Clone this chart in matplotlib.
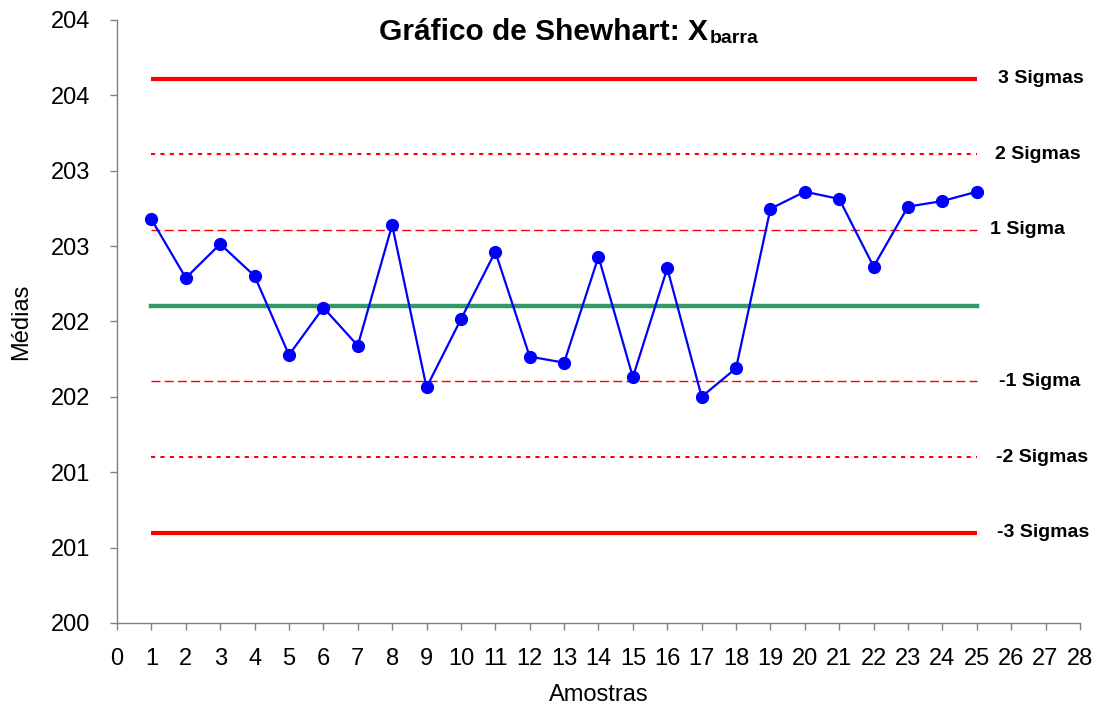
import matplotlib.pyplot as plt
import numpy as np

plt.rcParams['font.family'] = ['Liberation Sans', 'DejaVu Sans']

# amostras e medias
amostras = list(range(1, 26))
medias = [202.678, 202.289, 202.514, 202.302, 201.778, 202.092, 201.840,
          202.640, 201.563, 202.015, 202.463, 201.767, 201.727, 202.430,
          201.630, 202.353, 201.501, 201.690, 202.748, 202.861, 202.813,
          202.364, 202.762, 202.799, 202.861]

centro = 202.105
sigma = 0.502
niveis = [3, 2, 1, -1, -2, -3]
rotulos = ['3 Sigmas', '2 Sigmas', '1 Sigma', '-1 Sigma', '-2 Sigmas', '-3 Sigmas']
rot_x = [25.63, 25.52, 25.38, 25.66, 25.55, 25.60]

yticks = np.arange(200, 204.01, 0.5)
ytick_labels = ['200', '201', '201', '202', '202', '203', '203', '204', '204']

fig = plt.figure(figsize=(11.03, 7.09), dpi=100)
ax = fig.add_axes([0.1061, 0.1213, 0.873, 0.8505])

estilos = {3: dict(ls='-', lw=3.0), 2: dict(ls=(0, (2, 2.5)), lw=1.5),
           1: dict(ls=(0, (6.5, 3)), lw=1.0)}
for n, rot, rx in zip(niveis, rotulos, rot_x):
    y = centro + n * sigma
    ax.plot([amostras[0], amostras[-1]], [y, y], color='#ff0000',
            solid_capstyle='butt', **estilos[abs(n)])
    ax.text(rx, y, rot, fontsize=14, fontweight='bold', va='center', ha='left')

ax.plot([amostras[0], amostras[-1]], [centro, centro], color='#339966', lw=3.2)
ax.plot(amostras, medias, color='#0000ff', lw=1.6, marker='o', ms=8.5,
        markerfacecolor='#0000ff', markeredgecolor='#0000ff')

ax.set_xlim(0, 28)
ax.set_ylim(200, 204)
ax.set_xticks(range(0, 29))
ax.set_yticks(yticks)
ax.set_yticklabels(ytick_labels)
ax.tick_params(axis='both', direction='out', length=5, width=1, color='#808080')
ax.tick_params(axis='y', labelsize=17, pad=14)
ax.tick_params(axis='x', labelsize=17, pad=13)
for s in ['top', 'right']:
    ax.spines[s].set_visible(False)
for s in ['left', 'bottom']:
    ax.spines[s].set_color('#808080')
    ax.spines[s].set_linewidth(1)

ax.set_xlabel('Amostras', fontsize=17, labelpad=10)
ax.set_ylabel('Médias', fontsize=17, labelpad=14)

t = fig.text(0.493, 0.955, 'Gráfico de Shewhart: X', fontsize=21.5,
             fontweight='bold', ha='center', va='center')
fig.canvas.draw()
ax.annotate('barra', xy=(1, 0), xycoords=t, xytext=(1, -1),
            textcoords='offset points', fontsize=14, fontweight='bold',
            ha='left', va='bottom')

fig.savefig('out.png', dpi=100)
